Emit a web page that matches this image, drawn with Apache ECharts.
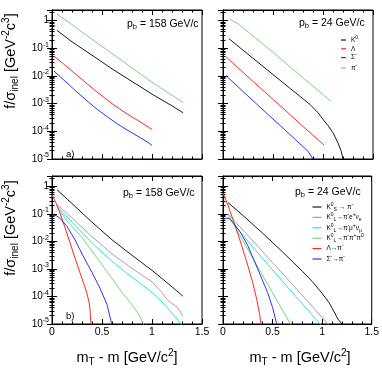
<!DOCTYPE html>
<html>
<head>
<meta charset="utf-8">
<script src="https://cdn.jsdelivr.net/npm/echarts@6/dist/echarts.min.js"></script>
<style>
  html, body { margin: 0; padding: 0; background: #fff; }
  #chart { width: 382px; height: 370px; }
</style>
</head>
<body>
<div id="chart"></div>
<script>
  // a) 158 GeV/c
  const k0_158 = [[0.05, 0.44], [0.2, 0.17], [0.4, 0.056], [0.6, 0.018], [0.8, 6.3e-3], [1.0, 2.2e-3], [1.2, 8.3e-4], [1.31, 4.7e-4]]
  const lam_158 = [[0.02, 0.051], [0.1, 0.030], [0.2, 0.0148], [0.3, 7.4e-3], [0.4, 3.7e-3], [0.5, 1.9e-3], [0.6, 1.0e-3], [0.7, 5.6e-4], [0.8, 3.3e-4], [0.9, 2.0e-4], [1.0, 1.17e-4]]
  const sig_158 = [[0.02, 0.015], [0.06, 0.011], [0.15, 5.6e-3], [0.25, 2.6e-3], [0.35, 1.26e-3], [0.45, 6.3e-4], [0.55, 3.4e-4], [0.65, 1.9e-4], [0.75, 1.12e-4], [0.85, 6.9e-5], [0.95, 4.2e-5], [1.0, 3.1e-5]]
  const pim_158 = [[0.05, 1.7], [0.2, 0.71], [0.4, 0.21], [0.6, 0.065], [0.8, 0.0195], [1.0, 5.9e-3], [1.2, 2.0e-3], [1.31, 1.1e-3]]
  // a) 24 GeV/c
  const k0_24 = [[0.06, 0.22], [0.2, 0.085], [0.4, 0.022], [0.6, 5.7e-3], [0.8, 1.5e-3], [0.87, 9.3e-4], [0.95, 4.7e-4], [1.0, 2.7e-4], [1.05, 1.6e-4], [1.1, 8.9e-5], [1.15, 3.8e-5], [1.18, 2e-5], [1.2, 1e-5]]
  const lam_24 = [[0.03, 0.049], [0.2, 0.0135], [0.4, 3.0e-3], [0.6, 6.8e-4], [0.8, 1.5e-4], [0.9, 7.2e-5], [1.01, 3.2e-5]]
  const sig_24 = [[0.03, 0.0102], [0.2, 2.75e-3], [0.4, 5.9e-4], [0.6, 1.3e-4], [0.8, 2.8e-5], [0.85, 1.9e-5], [0.88, 1.3e-5], [0.9, 1e-5]]
  const pim_24 = [[0.07, 1.09], [0.15, 0.76], [0.3, 0.28], [0.5, 0.071], [0.7, 0.0174], [0.9, 4.3e-3], [1.08, 1.2e-3]]
  // b) 158 GeV/c
  const ks_158 = [[0.05, 0.76], [0.2, 0.24], [0.4, 0.05], [0.6, 0.0115], [0.8, 3.16e-3], [1.0, 8.9e-4], [1.1, 4.5e-4], [1.2, 2.24e-4], [1.31, 1.02e-4]]
  const ke3_158 = [[0.05, 0.22], [0.2, 0.072], [0.4, 0.015], [0.6, 3.5e-3], [0.8, 1.05e-3], [1.0, 3.4e-4], [1.1, 1.4e-4], [1.16, 7.1e-5], [1.2, 5.6e-5], [1.25, 4.2e-5], [1.31, 1.95e-5]]
  const km3_158 = [[0.05, 0.19], [0.2, 0.05], [0.4, 8.9e-3], [0.6, 1.9e-3], [0.8, 5e-4], [1.0, 1.4e-4], [1.1, 6.3e-5], [1.2, 2.5e-5], [1.3, 9e-6]]
  const k3pi_158 = [[0.05, 0.18], [0.15, 0.056], [0.3, 0.014], [0.45, 2.5e-3], [0.6, 4.5e-4], [0.7, 1.4e-4], [0.8, 5e-5], [0.87, 2.2e-5], [0.92, 9e-6]]
  const lampi_158 = [[0.0, 0.5], [0.04, 0.25], [0.08, 0.107], [0.13, 0.032], [0.18, 8.9e-3], [0.23, 2.5e-3], [0.28, 7.2e-4], [0.32, 2.8e-4], [0.35, 1.26e-4], [0.37, 6.3e-5], [0.38, 3.4e-5], [0.39, 9e-6]]
  const sigpi_158 = [[0.0, 0.085], [0.04, 0.088], [0.08, 0.07], [0.15, 0.035], [0.23, 0.0115], [0.31, 3.0e-3], [0.4, 7.5e-4], [0.48, 2.0e-4], [0.55, 5.1e-5], [0.6, 9e-6]]
  // b) 24 GeV/c
  const ks_24 = [[0.05, 0.26], [0.2, 0.089], [0.4, 0.02], [0.6, 4.2e-3], [0.8, 8.3e-4], [0.9, 3.5e-4], [1.0, 1.3e-4], [1.07, 6e-5], [1.12, 2.8e-5], [1.16, 1.5e-5], [1.21, 9e-6]]
  const ke3_24 = [[0.05, 0.10], [0.3, 0.0107], [0.5, 1.7e-3], [0.7, 2.75e-4], [0.9, 4.4e-5], [1.07, 9e-6]]
  const km3_24 = [[0.05, 0.076], [0.3, 6.3e-3], [0.5, 9.3e-4], [0.7, 1.38e-4], [0.9, 2.1e-5], [0.99, 9e-6]]
  const k3pi_24 = [[0.05, 0.1], [0.17, 0.0166], [0.3, 2.5e-3], [0.45, 2.8e-4], [0.6, 3.2e-5], [0.69, 9e-6]]
  const lampi_24 = [[0.0, 0.57], [0.05, 0.21], [0.1, 0.063], [0.15, 0.019], [0.2, 5.2e-3], [0.25, 1.35e-3], [0.3, 3.2e-4], [0.34, 7.9e-5], [0.37, 2.2e-5], [0.385, 9e-6]]
  const sigpi_24 = [[0.0, 0.062], [0.03, 0.07], [0.06, 0.07], [0.1, 0.05], [0.18, 0.0204], [0.25, 7.1e-3], [0.31, 2.2e-3], [0.38, 5.6e-4], [0.45, 1.38e-4], [0.5, 4e-5], [0.545, 9e-6]]

  const xTicks = [0, 0.5, 1, 1.5]
  const beamLabels = ['158', '24', '158', '24']
  const panelTags = ['a)', 'b)']

  const FONT = "'Liberation Sans', Arial, sans-serif"
  const BLACK = '#1a1a1a'
  const RED = '#ff2626'
  const BLUE = '#3030ff'
  const GREEN = '#74d874'
  const BROWN = '#b89a9e'
  const CYAN = '#20e6ec'

  // rich styles: n normal, u superscript, d subscript
  const richSet = (base, small, H, up, down) => ({
    n: { fontSize: base, lineHeight: H, fontFamily: FONT, color: '#000' },
    u: { fontSize: small, lineHeight: small, padding: [up, 0, H - small - up, 0], fontFamily: FONT, color: '#000' },
    d: { fontSize: small, lineHeight: small, padding: [down, 0, H - small - down, 0], fontFamily: FONT, color: '#000' }
  })
  const tickRich = richSet(10, 7, 14, 0, 7)
  const titleRich = richSet(14.5, 10, 22, 1, 10)
  const legRich = richSet(6.5, 5, 10, 0, 5)
  const pbRich = richSet(10.5, 7.5, 15, 0, 7)

  const topNames = ['K0', 'Lam', 'SigM', 'piM']
  const botNames = ['KS', 'Ke3', 'Km3', 'K3pi', 'LamPi', 'SigPi']
  const legendText = {
    K0: '{n|K}{u|0}',
    Lam: '{n|Λ}',
    SigM: '{n|Σ}{u|-}',
    piM: '{n|π}{u|-}',
    KS: '{n|K}{u|0}{d|S}{n| → π}{u|-}',
    Ke3: '{n|K}{u|0}{d|L}{n|→π}{u|-}{n|e}{u|+}{n|ν}{d|e}',
    Km3: '{n|K}{u|0}{d|L}{n|→π}{u|-}{n|μ}{u|+}{n|ν}{d|μ}',
    K3pi: '{n|K}{u|0}{d|L}{n|→π}{u|-}{n|π}{u|+}{n|π}{u|0}',
    LamPi: '{n|Λ→π}{u|-}',
    SigPi: '{n|Σ}{u|-}{n|→π}{u|-}'
  }

  const panels = [
    [['K0', k0_158, BLACK], ['Lam', lam_158, RED], ['SigM', sig_158, BLUE], ['piM', pim_158, GREEN]],
    [['K0', k0_24, BLACK], ['Lam', lam_24, RED], ['SigM', sig_24, BLUE], ['piM', pim_24, GREEN]],
    [['KS', ks_158, BLACK], ['Ke3', ke3_158, BROWN], ['Km3', km3_158, CYAN], ['K3pi', k3pi_158, GREEN], ['LamPi', lampi_158, RED], ['SigPi', sigpi_158, BLUE]],
    [['KS', ks_24, BLACK], ['Ke3', ke3_24, BROWN], ['Km3', km3_24, CYAN], ['K3pi', k3pi_24, GREEN], ['LamPi', lampi_24, RED], ['SigPi', sigpi_24, BLUE]]
  ]

  const gridPos = [
    { left: 52, top: 10, width: 150, height: 149 },
    { left: 223, top: 10, width: 150, height: 149 },
    { left: 52, top: 176, width: 150, height: 148 },
    { left: 223, top: 176, width: 150, height: 148 }
  ]

  const logLabel = (v) => {
    const e = Math.round(Math.log10(v))
    if (Math.abs(Math.log10(v) - e) > 1e-6) return ''
    return e === 0 ? '{n|1}' : '{n|10}{u|' + e + '}'
  }

  const tickStyle = { inside: true, length: 5, lineStyle: { color: '#000', width: 1 } }
  const minorStyle = { show: true, length: 2.5, lineStyle: { color: '#000', width: 1 } }
  const lineStyle = { color: '#000', width: 1 }

  const xAxes = []
  const yAxes = []
  gridPos.forEach((g, i) => {
    const bottomRow = i >= 2
    const leftCol = i % 2 === 0
    xAxes.push({
      type: 'value', gridIndex: i, min: xTicks[0], max: xTicks[xTicks.length - 1], interval: 0.5,
      axisLine: { show: true, onZero: false, lineStyle },
      axisTick: tickStyle,
      minorTick: { ...minorStyle, splitNumber: 5 },
      splitLine: { show: false },
      axisLabel: {
        show: bottomRow, margin: 3, color: '#000', fontFamily: FONT, fontSize: 10.5,
        formatter: (v) => String(v)
      }
    })
    yAxes.push({
      type: 'log', logBase: 10, gridIndex: i, min: 1e-5, max: 2.4,
      axisLine: { show: true, lineStyle },
      axisTick: tickStyle,
      minorTick: { ...minorStyle, splitNumber: 9 },
      splitLine: { show: false },
      axisLabel: { show: leftCol, margin: 3, formatter: logLabel, rich: tickRich }
    })
  })
  // mirrored ticks on top and right
  gridPos.forEach((g, i) => {
    xAxes.push({
      type: 'value', gridIndex: i, position: 'top', min: 0, max: 1.5, interval: 0.5,
      axisLine: { show: true, onZero: false, lineStyle },
      axisTick: tickStyle,
      minorTick: { ...minorStyle, splitNumber: 5 },
      splitLine: { show: false },
      axisLabel: { show: false }
    })
    yAxes.push({
      type: 'log', logBase: 10, gridIndex: i, position: 'right', min: 1e-5, max: 2.4,
      axisLine: { show: true, lineStyle },
      axisTick: tickStyle,
      minorTick: { ...minorStyle, splitNumber: 9 },
      splitLine: { show: false },
      axisLabel: { show: false }
    })
  })

  const series = []
  panels.forEach((list, i) => {
    list.forEach(([name, data, color]) => {
      series.push({
        type: 'line', name, data, xAxisIndex: i, yAxisIndex: i,
        showSymbol: false, symbol: 'none', clip: true,
        lineStyle: { color, width: 1 },
        itemStyle: { color }
      })
    })
  })

  const legendBase = {
    orient: 'vertical', icon: 'rect', itemHeight: 1.2, padding: 0,
    formatter: (name) => legendText[name],
    textStyle: { rich: legRich, fontSize: 6.5 },
    selectedMode: false
  }

  const graphic = []
  const ytitle = '{n|f/σ}{d|inel}{n| [GeV}{u|-2}{n|c}{u|3}{n|]}'
  const xtitle = '{n|m}{d|T}{n| - m [GeV/c}{u|2}{n|]}'
  ;[61, 228].forEach((y) => {
    graphic.push({
      type: 'text', x: 11, y, rotation: Math.PI / 2,
      style: { text: ytitle, rich: titleRich, align: 'center', verticalAlign: 'middle' }
    })
  })
  ;[127, 300].forEach((x) => {
    graphic.push({
      type: 'text', x, y: 358,
      style: { text: xtitle, rich: titleRich, align: 'center', verticalAlign: 'middle' }
    })
  })
  const pbPos = [[127, 24], [299, 23], [123, 193], [295, 192]]
  pbPos.forEach(([x, y], i) => {
    graphic.push({
      type: 'text', x, y,
      style: { text: '{n|p}{d|b}{n| = ' + beamLabels[i] + ' GeV/c}', rich: pbRich, align: 'left', verticalAlign: 'middle' }
    })
  })
  ;[[66, 154], [66, 316.5]].forEach(([x, y], i) => {
    graphic.push({
      type: 'text', x, y,
      style: { text: panelTags[i], fill: '#000', font: '9.5px ' + FONT, align: 'left', verticalAlign: 'middle' }
    })
  })

  const chart = echarts.init(document.getElementById('chart'))
  chart.setOption({
    animation: false,
    backgroundColor: '#fff',
    grid: gridPos.map((g) => ({ ...g, show: true, borderColor: '#000', borderWidth: 1, backgroundColor: 'transparent' })),
    xAxis: xAxes,
    yAxis: yAxes,
    legend: [
      { ...legendBase, left: 341, top: 35, itemWidth: 5, itemGap: 0.3, data: topNames },
      { ...legendBase, left: 312.5, top: 202, itemWidth: 9, itemGap: 0.4, data: botNames }
    ],
    graphic,
    series
  })
</script>
</body>
</html>
